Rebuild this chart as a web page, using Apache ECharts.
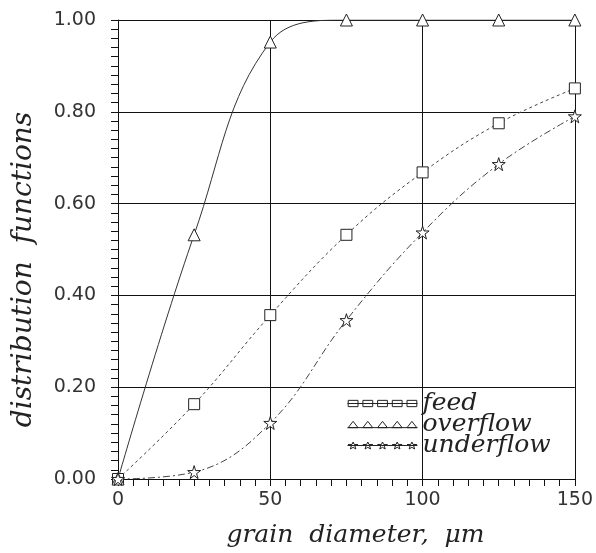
<!DOCTYPE html>
<html>
<head>
<meta charset="utf-8">
<script src="https://cdn.jsdelivr.net/npm/echarts@6/dist/echarts.min.js"></script>
<style>
html, body { margin: 0; padding: 0; background: #fff; }
#chart { width: 596px; height: 553px; }
</style>
</head>
<body>
<div id="chart"></div>
<script>
// grain diameter (um)
var diameters = [0, 25, 50, 75, 100, 125, 150];
// distribution functions
var feed = [0, 0.163, 0.357, 0.532, 0.668, 0.775, 0.851];
var overflow = [0, 0.532, 0.952, 1.0, 1.0, 1.0, 1.0];
var underflow = [0, 0.015, 0.122, 0.346, 0.537, 0.686, 0.79];
var names = ['feed', 'overflow', 'underflow'];

var starPath = 'path://M50,0L61,35L98,35L68,57L79,92L50,70L21,92L32,57L2,35L39,35Z';
// legend icons: a line with five markers on it
var legSquares = 'path://M0,5L100,5M1,0.5h14v9h-14zM22,0.5h14v9h-14zM43,0.5h14v9h-14zM64,0.5h14v9h-14zM85,0.5h14v9h-14z';
var legTriangles = 'path://M0,9.5L100,9.5M1,9.5L8,0.5L15,9.5ZM22,9.5L29,0.5L36,9.5ZM43,9.5L50,0.5L57,9.5ZM64,9.5L71,0.5L78,9.5ZM85,9.5L92,0.5L99,9.5Z';
var legStars = 'path://M0,5L100,5M8,0L9.6,3.5L15,3.6L10.6,5.9L11.9,10L8,7.6L4.1,10L5.4,5.9L1,3.6L6.4,3.5ZM29,0L30.6,3.5L36,3.6L31.6,5.9L32.9,10L29,7.6L25.1,10L26.4,5.9L22,3.6L27.4,3.5ZM50,0L51.6,3.5L57,3.6L52.6,5.9L53.9,10L50,7.6L46.1,10L47.4,5.9L43,3.6L48.4,3.5ZM71,0L72.6,3.5L78,3.6L73.6,5.9L74.9,10L71,7.6L67.1,10L68.4,5.9L64,3.6L69.4,3.5ZM92,0L93.6,3.5L99,3.6L94.6,5.9L95.9,10L92,7.6L88.1,10L89.4,5.9L85,3.6L90.4,3.5Z';

function pairs(ys) {
    var out = [];
    for (var i = 0; i < diameters.length; i++) out.push([diameters[i], ys[i]]);
    return out;
}

var chart = echarts.init(document.getElementById('chart'));

var markerStyle = { color: '#fff', borderColor: '#222', borderWidth: 1 };

option = {
    animation: false,
    backgroundColor: '#fff',
    grid: { left: 118, right: 20, top: 20, bottom: 73 },
    legend: {
        orient: 'vertical',
        left: 342,
        top: 386,
        itemWidth: 70,
        itemHeight: 11,
        itemGap: -4,
        textStyle: { fontFamily: 'DejaVu Serif', fontStyle: 'italic', fontSize: 25, color: '#222' },
        itemStyle: { color: 'rgba(0,0,0,0)', borderColor: '#222', borderWidth: 1 },
        lineStyle: { opacity: 0 },
        data: [
            { name: 'feed', icon: legSquares },
            { name: 'overflow', icon: legTriangles },
            { name: 'underflow', icon: legStars }
        ]
    },
    xAxis: {
        type: 'value',
        min: 0,
        max: 150,
        interval: 50,
        name: 'grain  diameter,  \u03bcm',
        nameLocation: 'middle',
        nameGap: 44,
        nameTextStyle: {
            fontFamily: 'DejaVu Serif', fontStyle: 'italic', fontSize: 25, color: '#222',
            padding: [0, 0, 0, 18]
        },
        axisLine: { show: true, lineStyle: { color: '#111', width: 1 } },
        axisTick: { show: true, inside: false, length: 7, lineStyle: { color: '#111' } },
        minorTick: { show: true, splitNumber: 10, length: 7, lineStyle: { color: '#111' } },
        axisLabel: { margin: 12, fontFamily: 'DejaVu Sans', fontSize: 19, color: '#333' },
        splitLine: { show: true, lineStyle: { color: '#111', width: 1 } }
    },
    yAxis: {
        type: 'value',
        min: 0,
        max: 1,
        interval: 0.2,
        name: 'distribution  functions',
        nameLocation: 'middle',
        nameGap: 80,
        nameTextStyle: {
            fontFamily: 'DejaVu Serif', fontStyle: 'italic', fontSize: 28, color: '#222',
            padding: [0, 40, 0, 0]
        },
        axisLine: { show: true, lineStyle: { color: '#111', width: 1 } },
        axisTick: { show: true, inside: false, length: 7, lineStyle: { color: '#111' } },
        minorTick: { show: true, splitNumber: 10, length: 7, lineStyle: { color: '#111' } },
        axisLabel: {
            margin: 22,
            fontFamily: 'DejaVu Sans',
            fontSize: 19,
            color: '#333',
            formatter: function (v) { return v.toFixed(2); }
        },
        splitLine: { show: true, lineStyle: { color: '#111', width: 1 } }
    },
    series: [
        {
            name: names[0],
            type: 'line',
            data: pairs(feed),
            smooth: 0.4,
            symbol: 'rect',
            symbolSize: 11,
            itemStyle: markerStyle,
            lineStyle: { color: '#444', width: 1, type: [3, 3] },
            z: 3
        },
        {
            name: names[1],
            type: 'line',
            data: pairs(overflow),
            smooth: 0.4,
            symbol: 'triangle',
            symbolSize: 12,
            itemStyle: markerStyle,
            lineStyle: { color: '#333', width: 1 },
            z: 3
        },
        {
            name: names[2],
            type: 'line',
            data: pairs(underflow),
            smooth: 0.4,
            symbol: starPath,
            symbolSize: 13,
            itemStyle: markerStyle,
            lineStyle: { color: '#444', width: 1, type: [7, 3, 2, 3] },
            z: 3
        }
    ]
};

chart.setOption(option);
</script>
</body>
</html>
